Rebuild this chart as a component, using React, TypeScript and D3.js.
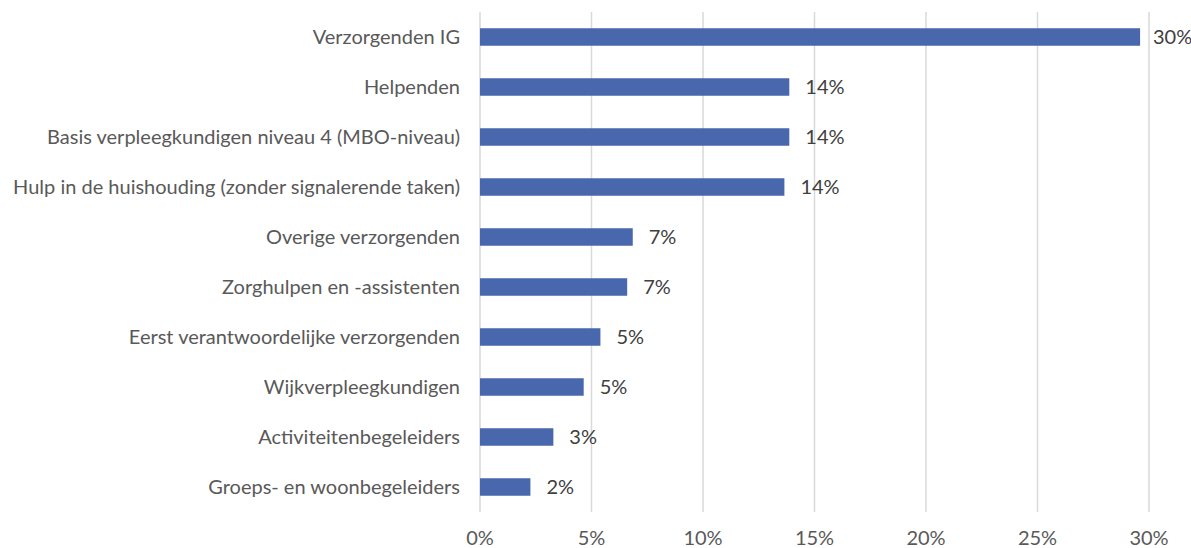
import React, { useEffect, useRef } from 'react';
import * as d3 from 'd3';

// categories from top to bottom
const categories = [
  'Verzorgenden IG',
  'Helpenden',
  'Basis verpleegkundigen niveau 4 (MBO-niveau)',
  'Hulp in de huishouding (zonder signalerende taken)',
  'Overige verzorgenden',
  'Zorghulpen en -assistenten',
  'Eerst verantwoordelijke verzorgenden',
  'Wijkverpleegkundigen',
  'Activiteitenbegeleiders',
  'Groeps- en woonbegeleiders',
];
const values = [29.6, 13.87, 13.87, 13.65, 6.85, 6.6, 5.4, 4.65, 3.29, 2.26];
const valueLabels = ['30%', '14%', '14%', '14%', '7%', '7%', '5%', '5%', '3%', '2%'];
const xTicks = [0, 5, 10, 15, 20, 25, 30];

const W = 1191;
const H = 548;
const FONT = 'Lato, "Open Sans", sans-serif';

const App = () => {
  const svgRef = useRef<SVGSVGElement>(null);

  useEffect(() => {
    const svg = d3.select(svgRef.current);
    svg.selectAll('*').remove();

    const x = d3.scaleLinear().domain([0, 30]).range([480, 1149]);
    const y = d3.scaleBand().domain(categories).range([12, 512]).paddingInner(0.65).paddingOuter(0.325);

    // gridlines
    svg.append('g')
      .selectAll('line')
      .data(xTicks)
      .enter().append('line')
      .attr('x1', d => x(d)).attr('x2', d => x(d))
      .attr('y1', 12).attr('y2', 512)
      .attr('stroke', '#d9d9d9')
      .attr('stroke-width', 1.5);

    // bars
    svg.append('g')
      .selectAll('rect')
      .data(values)
      .enter().append('rect')
      .attr('x', x(0))
      .attr('y', (d, i) => y(categories[i]))
      .attr('width', d => x(d) - x(0))
      .attr('height', y.bandwidth())
      .attr('fill', '#4867ad');

    // value labels
    svg.append('g')
      .selectAll('text')
      .data(values)
      .enter().append('text')
      .attr('x', d => Math.min(x(d) + 16, 1153))
      .attr('y', (d, i) => y(categories[i]) + y.bandwidth() / 2)
      .attr('dy', '0.35em')
      .attr('font-family', FONT)
      .attr('font-size', 20)
      .attr('fill', '#404040')
      .text((d, i) => valueLabels[i]);

    // category labels
    svg.append('g')
      .selectAll('text')
      .data(categories)
      .enter().append('text')
      .attr('x', 460)
      .attr('y', d => y(d) + y.bandwidth() / 2)
      .attr('dy', '0.35em')
      .attr('text-anchor', 'end')
      .attr('font-family', FONT)
      .attr('font-size', 20)
      .attr('fill', '#595959')
      .text(d => d);

    // x tick labels
    svg.append('g')
      .selectAll('text')
      .data(xTicks)
      .enter().append('text')
      .attr('x', d => x(d))
      .attr('y', 545)
      .attr('text-anchor', 'middle')
      .attr('font-family', FONT)
      .attr('font-size', 20)
      .attr('fill', '#595959')
      .text(d => d + '%');
  }, []);

  return (
    <svg ref={svgRef} width={W} height={H} style={{ position: 'absolute', left: 0, top: 0, background: '#fff' }} />
  );
};

export default App;
